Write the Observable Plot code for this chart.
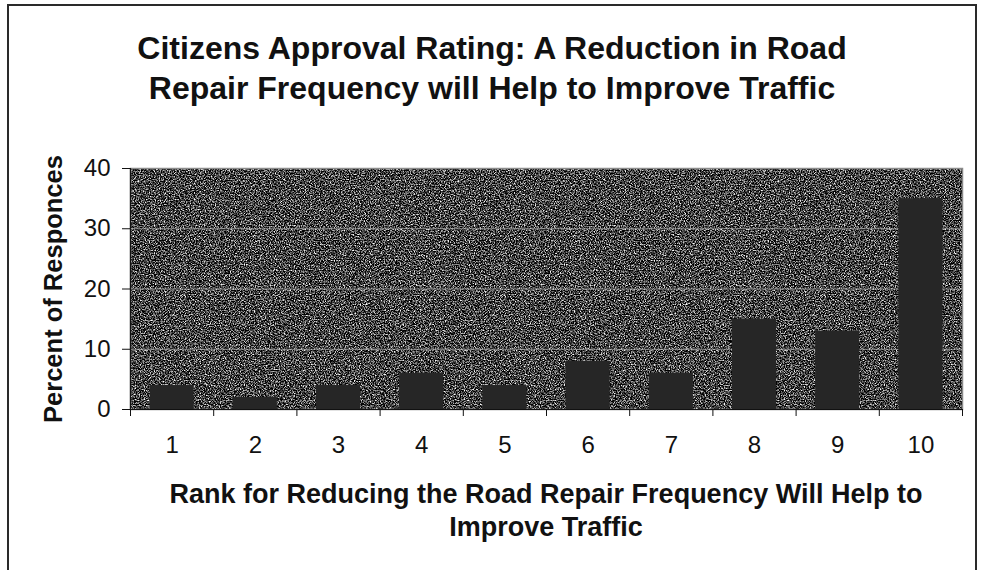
<!DOCTYPE html>
<html>
<head>
<meta charset="utf-8">
<script src="https://cdn.jsdelivr.net/npm/d3@7"></script>
<script src="https://cdn.jsdelivr.net/npm/@observablehq/plot@0.6"></script>
<style>
  html, body { margin: 0; padding: 0; background: #fff; }
  body { width: 984px; height: 570px; overflow: hidden; position: relative; font-family: "Liberation Sans", Arial, sans-serif; color: #111; }
  #border { position: absolute; left: 7px; top: 4px; width: 970px; height: 620px; border: 2px solid #2a2a2a; box-sizing: border-box; }
  #title { position: relative; height: 130px; box-sizing: border-box; padding-top: 28px; text-align: center; font-weight: bold; font-size: 32px; line-height: 40px; }
  #chart { position: relative; height: 340px; }
  #xtitle { position: relative; box-sizing: border-box; padding-top: 8px; padding-left: 130px; padding-right: 22px; text-align: center; font-weight: bold; font-size: 27px; line-height: 33px; }
  #chart svg { overflow: visible; }
  #chart [aria-label="y-axis label"] text { font-weight: bold; font-size: 25.5px; }
  #chart [aria-label="y-axis tick label"] text,
  #chart [aria-label="x-axis tick label"] text { font-size: 24px; }
</style>
</head>
<body>
<div id="border"></div>
<div id="title">Citizens Approval Rating: A Reduction in Road<br>Repair Frequency will Help to Improve Traffic</div>
<div id="chart"></div>
<div id="xtitle">Rank for Reducing the Road Repair Frequency Will Help to<br>Improve Traffic</div>
<script>
// Survey results: share of responses for each rank 1–10
const ranks = [1, 2, 3, 4, 5, 6, 7, 8, 9, 10];
const percents = [4, 2, 4, 6, 4, 8, 6, 15, 13, 35];
const yTicks = [0, 10, 20, 30, 40];
const gridValues = [10, 20, 30];

const data = ranks.map((r, i) => ({rank: r, pct: percents[i]}));
// category boundaries carry the tick marks, the centres carry the labels
const boundaries = ranks.map(r => r - 0.5).concat(ranks[ranks.length - 1] + 0.5);
const halfBar = 0.265;

const chart = Plot.plot({
  width: 984,
  height: 340,
  marginLeft: 130,
  marginRight: 22,
  marginTop: 38,
  marginBottom: 61,
  style: {fontFamily: "'Liberation Sans', Arial, sans-serif", color: "#111", background: "transparent"},
  x: {domain: [0.5, 10.5]},
  y: {domain: [0, 40]},
  marks: [
    Plot.frame({fill: "#464646", stroke: "#8a8a8a", strokeWidth: 1.5}),
    Plot.ruleY(gridValues, {stroke: "#a8a8a8", strokeWidth: 1, strokeOpacity: 0.8}),
    Plot.rectY(data, {x1: d => d.rank - halfBar, x2: d => d.rank + halfBar, y: "pct", fill: "#262626"}),
    Plot.axisY({ticks: yTicks, tickSize: 8, tickPadding: 12, stroke: "#111",
      label: "Percent of Responces", labelAnchor: "center", labelArrow: "none", labelOffset: 87}),
    Plot.axisX({ticks: boundaries, tickSize: 7, tickFormat: () => "", label: null, stroke: "#111"}),
    Plot.axisX({ticks: ranks, tickSize: 0, tickPadding: 26, tickFormat: d => String(d), label: null}),
    Plot.ruleX([0.5], {stroke: "#111", strokeWidth: 1.2}),
    Plot.ruleY([0], {stroke: "#111", strokeWidth: 1.2})
  ]
});
document.getElementById("chart").appendChild(chart);

// speckled grain over the plotting area
const svg = d3.select(chart);
const defs = svg.insert("defs", ":first-child");
const filter = defs.append("filter").attr("id", "grain")
  .attr("x", 0).attr("y", 0).attr("width", "100%").attr("height", "100%")
  .attr("color-interpolation-filters", "sRGB");
filter.append("feTurbulence").attr("type", "fractalNoise").attr("baseFrequency", 0.8)
  .attr("numOctaves", 2).attr("seed", 7).attr("result", "noise");
filter.append("feColorMatrix").attr("in", "noise").attr("type", "matrix")
  .attr("values", "2.6 0 0 0 -1.05  2.6 0 0 0 -1.05  2.6 0 0 0 -1.05  0 0 0 0 1")
  .attr("result", "grey");
filter.append("feComposite").attr("in", "grey").attr("in2", "SourceGraphic").attr("operator", "in");
svg.select('[aria-label="frame"]').attr("filter", "url(#grain)");
svg.select('[aria-label="frame"]').clone(true).attr("filter", null).attr("fill", "none");
</script>
</body>
</html>
